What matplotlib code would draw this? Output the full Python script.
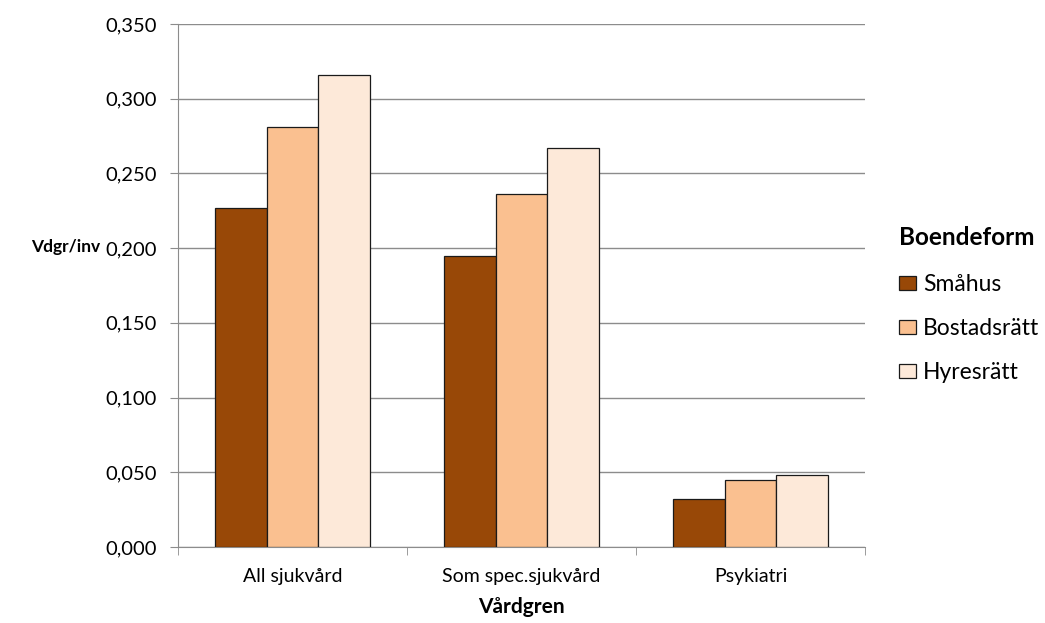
import numpy as np
import matplotlib.pyplot as plt
from matplotlib.ticker import FuncFormatter, FixedLocator

plt.rcParams['font.family'] = ['Lato', 'DejaVu Sans']

# Vårdtillfällen per invånare
kategorier = ['All sjukvård', 'Som spec.sjukvård', 'Psykiatri']
smahus = [0.227, 0.195, 0.032]
bostadsratt = [0.281, 0.236, 0.045]
hyresratt = [0.316, 0.267, 0.048]

serier = ['Småhus', 'Bostadsrätt', 'Hyresrätt']
farger = ['#984807', '#FAC090', '#FDE9D9']

fig = plt.figure(figsize=(10.45, 6.23), dpi=100)
ax = fig.add_axes([0.1703, 0.122, 0.6575, 0.8395])

x = np.arange(len(kategorier))
w = 0.225
for i, (vals, namn, c) in enumerate(zip([smahus, bostadsratt, hyresratt], serier, farger)):
    ax.bar(x + (i - 1) * w, vals, width=w, color=c, edgecolor='#1a1a1a',
           linewidth=0.9, label=namn, zorder=3)

ax.set_xlim(-0.5, 2.5)
ax.set_ylim(0, 0.35)
ax.set_yticks(np.arange(0, 0.351, 0.05))
ax.yaxis.set_major_formatter(FuncFormatter(lambda v, p: f'{v:.3f}'.replace('.', ',')))
ax.yaxis.grid(True, color='#8c8c8c', linewidth=1)
ax.set_axisbelow(True)

ax.set_xticks(x)
ax.set_xticklabels(kategorier)
ax.xaxis.set_minor_locator(FixedLocator([-0.5, 0.5, 1.5, 2.5]))
ax.tick_params(axis='x', which='major', length=0, pad=15, labelsize=14)
ax.tick_params(axis='x', which='minor', length=6, color='#8c8c8c')
ax.tick_params(axis='y', length=6, color='#8c8c8c', labelsize=14.5, pad=9)

for s in ['top', 'right']:
    ax.spines[s].set_visible(False)
for s in ['left', 'bottom']:
    ax.spines[s].set_color('#8c8c8c')

ax.set_xlabel('Vårdgren', fontsize=15, fontweight='bold', labelpad=9)
fig.text(0.063, 0.604, 'Vdgr/inv', fontsize=12.5, fontweight='bold',
         ha='center', va='center')

leg = fig.legend(loc='upper left', bbox_to_anchor=(0.849, 0.655), frameon=False,
                 title='Boendeform', fontsize=16.5, handlelength=0.75,
                 handleheight=0.57, handletextpad=0.3, labelspacing=1.0,
                 borderpad=0, alignment='left')
leg.get_title().set_fontweight('bold')
leg.get_title().set_fontsize(17.5)
leg._legend_box.sep = 18

fig.savefig('out.png', dpi=100)
